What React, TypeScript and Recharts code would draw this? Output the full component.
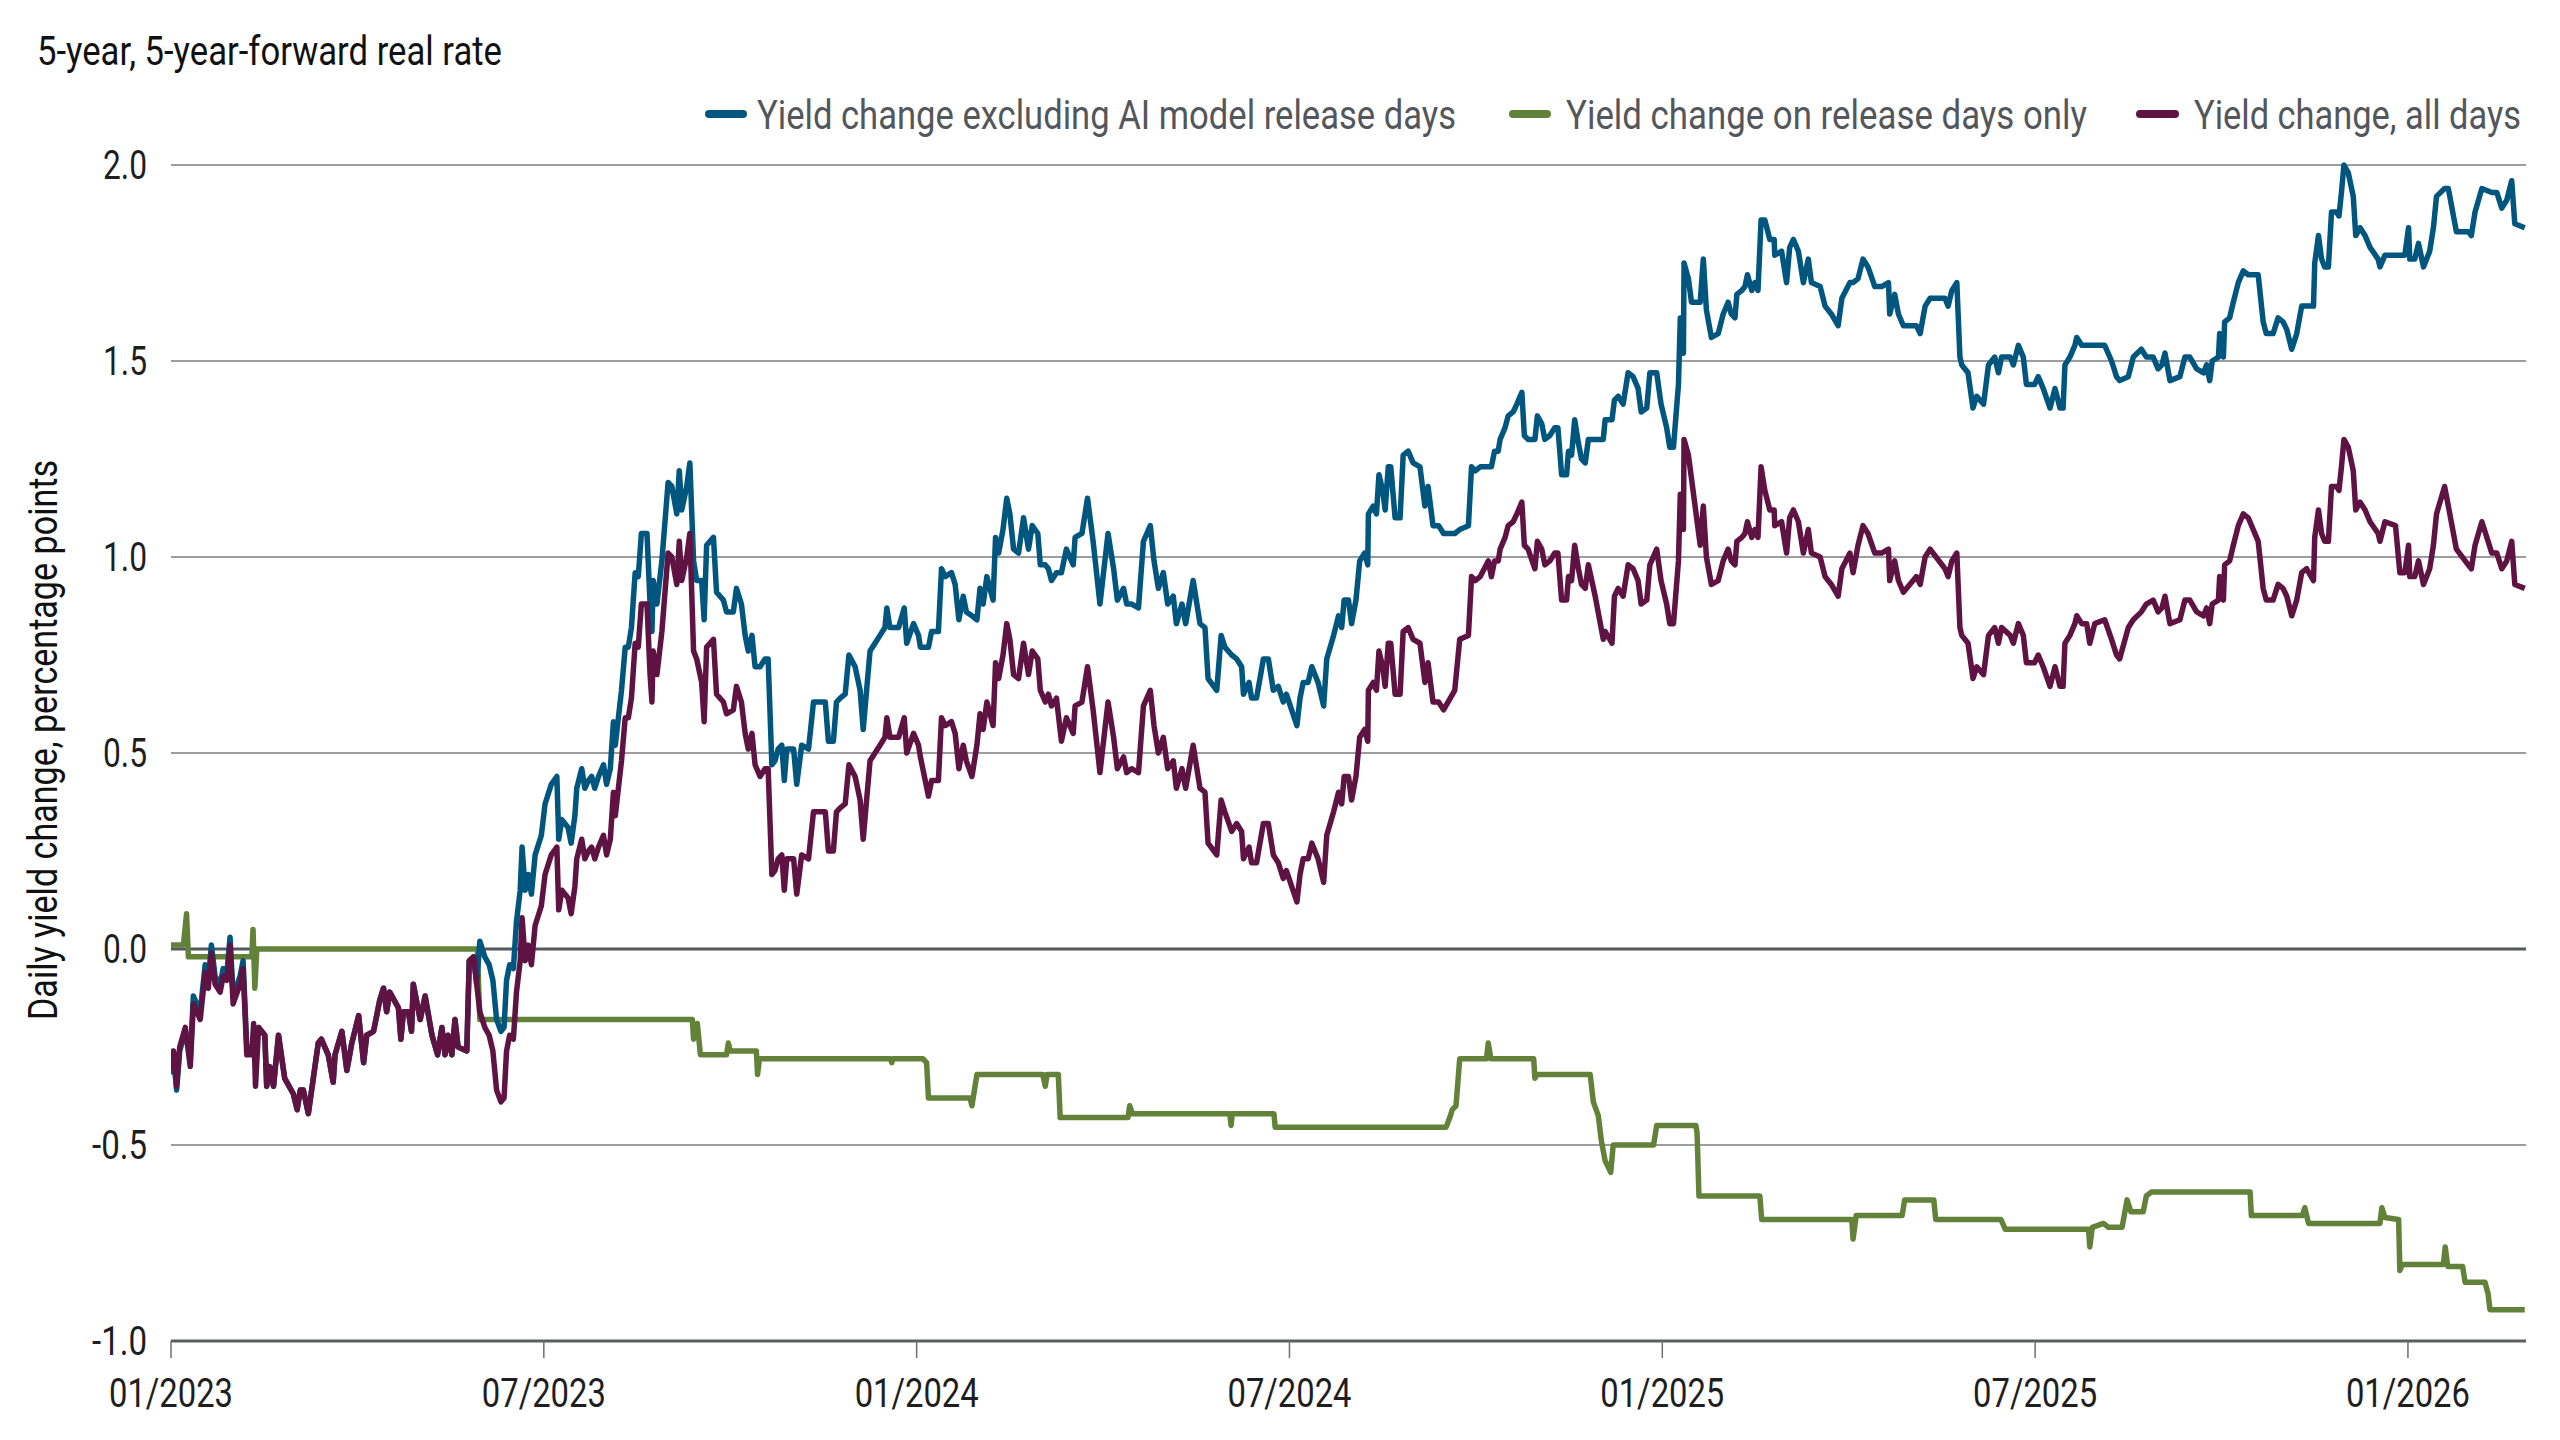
import React from 'react';
import { LineChart, Line, XAxis, YAxis, CartesianGrid, ReferenceLine } from 'recharts';

// x position = months elapsed since 1 Jan 2023
const months = [
  0.00, 0.04, 0.09, 0.14, 0.23, 0.31, 0.36, 0.47, 0.55, 0.60,
  0.65, 0.71, 0.79, 0.84, 0.90, 0.95, 1.00, 1.11, 1.16, 1.22,
  1.30, 1.33, 1.36, 1.41, 1.51, 1.54, 1.59, 1.65, 1.73, 1.83,
  1.97, 2.03, 2.08, 2.13, 2.21, 2.29, 2.37, 2.42, 2.53, 2.61,
  2.64, 2.75, 2.83, 2.91, 3.02, 3.10, 3.15, 3.26, 3.36, 3.42,
  3.47, 3.52, 3.66, 3.70, 3.74, 3.82, 3.87, 3.90, 4.01, 4.09,
  4.20, 4.29, 4.36, 4.41, 4.46, 4.52, 4.57, 4.62, 4.76, 4.80,
  4.87, 4.92, 4.97, 5.05, 5.12, 5.18, 5.24, 5.31, 5.36, 5.40,
  5.45, 5.51, 5.56, 5.62, 5.65, 5.70, 5.75, 5.80, 5.86, 5.96,
  6.02, 6.12, 6.21, 6.24, 6.29, 6.39, 6.44, 6.50, 6.53, 6.61,
  6.66, 6.72, 6.77, 6.82, 6.88, 6.96, 7.01, 7.07, 7.12, 7.15,
  7.20, 7.25, 7.31, 7.36, 7.41, 7.47, 7.52, 7.57, 7.66, 7.71,
  7.74, 7.76, 7.82, 7.90, 8.00, 8.06, 8.14, 8.18, 8.22, 8.30,
  8.35, 8.41, 8.46, 8.54, 8.58, 8.62, 8.73, 8.78, 8.89, 8.94,
  9.05, 9.10, 9.18, 9.24, 9.29, 9.35, 9.40, 9.48, 9.56, 9.61,
  9.67, 9.72, 9.77, 9.83, 9.87, 9.91, 10.02, 10.07, 10.15, 10.26,
  10.34, 10.47, 10.53, 10.58, 10.66, 10.71, 10.77, 10.85, 10.91, 11.01,
  11.09, 11.14, 11.20, 11.25, 11.33, 11.41, 11.49, 11.52, 11.57, 11.71,
  11.80, 11.84, 11.95, 12.03, 12.06, 12.19, 12.24, 12.35, 12.40, 12.46,
  12.56, 12.62, 12.68, 12.75, 12.80, 12.89, 12.97, 13.02, 13.07, 13.13,
  13.23, 13.27, 13.32, 13.39, 13.45, 13.50, 13.56, 13.64, 13.72, 13.80,
  13.86, 13.95, 13.99, 14.07, 14.12, 14.17, 14.25, 14.33, 14.41, 14.52,
  14.55, 14.66, 14.75, 14.84, 14.95, 15.08, 15.17, 15.23, 15.33, 15.38,
  15.46, 15.57, 15.65, 15.76, 15.82, 15.89, 15.97, 16.04, 16.13, 16.18,
  16.27, 16.33, 16.45, 16.56, 16.64, 16.69, 16.83, 16.90, 16.96, 17.07,
  17.15, 17.23, 17.26, 17.35, 17.39, 17.47, 17.58, 17.66, 17.74, 17.82,
  17.90, 17.95, 18.12, 18.17, 18.22, 18.30, 18.36, 18.46, 18.55, 18.60,
  18.71, 18.79, 18.84, 18.88, 18.95, 19.00, 19.07, 19.13, 19.21, 19.26,
  19.27, 19.35, 19.40, 19.44, 19.50, 19.54, 19.59, 19.63, 19.70, 19.78,
  19.83, 19.91, 19.99, 20.10, 20.18, 20.23, 20.31, 20.40, 20.48, 20.66,
  20.74, 20.88, 20.93, 20.99, 21.07, 21.20, 21.25, 21.30, 21.36, 21.39,
  21.47, 21.52, 21.60, 21.66, 21.74, 21.78, 21.84, 21.95, 21.99, 22.06,
  22.11, 22.19, 22.27, 22.32, 22.38, 22.46, 22.49, 22.54, 22.59, 22.65,
  22.70, 22.76, 22.81, 22.92, 23.05, 23.08, 23.19, 23.23, 23.29, 23.37,
  23.45, 23.53, 23.61, 23.66, 23.75, 23.80, 23.91, 23.98, 24.07, 24.12,
  24.18, 24.26, 24.29, 24.34, 24.35, 24.42, 24.47, 24.61, 24.66, 24.71,
  24.79, 24.90, 24.98, 25.06, 25.11, 25.17, 25.20, 25.28, 25.33, 25.37,
  25.44, 25.49, 25.54, 25.59, 25.65, 25.73, 25.80, 25.81, 25.92, 26.00,
  26.05, 26.11, 26.19, 26.27, 26.35, 26.40, 26.54, 26.62, 26.72, 26.83,
  26.89, 27.02, 27.07, 27.15, 27.23, 27.31, 27.42, 27.53, 27.64, 27.66,
  27.74, 27.80, 27.88, 28.09, 28.15, 28.23, 28.31, 28.55, 28.60, 28.66,
  28.74, 28.79, 28.82, 28.92, 29.00, 29.06, 29.17, 29.25, 29.35, 29.41,
  29.46, 29.60, 29.65, 29.73, 29.81, 29.86, 29.99, 30.05, 30.13, 30.24,
  30.32, 30.40, 30.45, 30.48, 30.56, 30.64, 30.67, 30.75, 30.83, 30.88,
  30.96, 31.12, 31.23, 31.31, 31.36, 31.50, 31.58, 31.71, 31.79, 31.90,
  31.98, 32.04, 32.09, 32.17, 32.33, 32.41, 32.49, 32.60, 32.71, 32.76,
  32.81, 32.85, 32.95, 32.97, 33.03, 33.05, 33.13, 33.19, 33.27, 33.35,
  33.43, 33.59, 33.67, 33.72, 33.83, 33.91, 33.99, 34.05, 34.13, 34.21,
  34.29, 34.37, 34.48, 34.50, 34.56, 34.61, 34.66, 34.72, 34.77, 34.85,
  34.89, 34.93, 34.97, 35.04, 35.12, 35.16, 35.23, 35.31, 35.39, 35.52,
  35.55, 35.63, 35.80, 35.87, 35.95, 36.01, 36.03, 36.11, 36.17, 36.25,
  36.35, 36.41, 36.46, 36.59, 36.65, 36.78, 36.97, 37.02, 37.08, 37.19,
  37.35, 37.43, 37.51, 37.59, 37.67, 37.72, 37.88,
];

const excludingRelease = [
  -0.32, -0.27, -0.36, -0.26, -0.21, -0.28, -0.12, -0.16, -0.04, -0.08,
  0.01, -0.07, -0.09, -0.05, -0.06, 0.03, -0.12, -0.07, -0.03, -0.25,
  -0.25, -0.24, -0.25, -0.20, -0.22, -0.35, -0.30, -0.35, -0.22, -0.33,
  -0.37, -0.41, -0.36, -0.36, -0.42, -0.33, -0.24, -0.23, -0.27, -0.34,
  -0.27, -0.21, -0.31, -0.24, -0.17, -0.29, -0.22, -0.21, -0.13, -0.10,
  -0.16, -0.11, -0.15, -0.23, -0.16, -0.16, -0.21, -0.09, -0.18, -0.12,
  -0.22, -0.27, -0.20, -0.27, -0.22, -0.27, -0.18, -0.25, -0.26, -0.03,
  -0.02, -0.09, 0.02, -0.02, -0.04, -0.08, -0.18, -0.21, -0.20, -0.08,
  -0.04, -0.05, 0.07, 0.15, 0.26, 0.15, 0.19, 0.14, 0.24, 0.29,
  0.37, 0.42, 0.44, 0.28, 0.33, 0.31, 0.27, 0.34, 0.41, 0.46,
  0.41, 0.43, 0.44, 0.41, 0.44, 0.47, 0.42, 0.46, 0.58, 0.52,
  0.59, 0.66, 0.77, 0.77, 0.82, 0.96, 0.95, 1.06, 1.06, 0.88,
  0.81, 0.94, 0.88, 0.99, 1.19, 1.18, 1.11, 1.22, 1.12, 1.18,
  1.24, 0.99, 0.94, 0.94, 0.84, 1.03, 1.05, 0.91, 0.89, 0.86,
  0.86, 0.92, 0.88, 0.80, 0.76, 0.80, 0.72, 0.72, 0.74, 0.74,
  0.47, 0.48, 0.51, 0.52, 0.43, 0.51, 0.51, 0.42, 0.52, 0.51,
  0.63, 0.63, 0.63, 0.53, 0.53, 0.63, 0.64, 0.65, 0.75, 0.72,
  0.66, 0.56, 0.67, 0.76, 0.78, 0.80, 0.82, 0.87, 0.82, 0.82,
  0.87, 0.78, 0.83, 0.80, 0.77, 0.77, 0.81, 0.81, 0.97, 0.95,
  0.96, 0.93, 0.84, 0.90, 0.86, 0.85, 0.84, 0.92, 0.88, 0.95,
  0.89, 1.05, 1.01, 1.07, 1.15, 1.11, 1.02, 1.01, 1.10, 1.02,
  1.08, 1.06, 0.98, 0.98, 0.97, 0.94, 0.96, 0.96, 1.02, 0.98,
  1.05, 1.06, 1.15, 1.04, 0.88, 1.06, 0.97, 0.89, 0.92, 0.88,
  0.88, 0.87, 1.04, 1.08, 0.99, 0.92, 0.96, 0.88, 0.90, 0.83,
  0.88, 0.83, 0.94, 0.83, 0.82, 0.69, 0.66, 0.80, 0.77, 0.75,
  0.74, 0.72, 0.65, 0.68, 0.64, 0.64, 0.74, 0.74, 0.66, 0.67,
  0.63, 0.65, 0.57, 0.64, 0.68, 0.68, 0.72, 0.68, 0.62, 0.74,
  0.80, 0.85, 0.82, 0.89, 0.89, 0.83, 0.89, 0.99, 1.01, 0.98,
  1.11, 1.13, 1.11, 1.21, 1.17, 1.12, 1.23, 1.23, 1.10, 1.10,
  1.26, 1.27, 1.24, 1.23, 1.13, 1.18, 1.08, 1.08, 1.06, 1.06,
  1.07, 1.08, 1.23, 1.22, 1.23, 1.23, 1.23, 1.27, 1.27, 1.30,
  1.33, 1.36, 1.37, 1.39, 1.42, 1.31, 1.30, 1.30, 1.36, 1.34,
  1.30, 1.31, 1.33, 1.33, 1.21, 1.21, 1.27, 1.26, 1.35, 1.29,
  1.25, 1.24, 1.30, 1.30, 1.30, 1.35, 1.35, 1.40, 1.41, 1.39,
  1.47, 1.46, 1.43, 1.37, 1.38, 1.47, 1.47, 1.39, 1.33, 1.28,
  1.28, 1.44, 1.61, 1.52, 1.75, 1.71, 1.65, 1.65, 1.76, 1.63,
  1.56, 1.57, 1.62, 1.65, 1.62, 1.61, 1.67, 1.68, 1.69, 1.72,
  1.68, 1.70, 1.68, 1.86, 1.86, 1.81, 1.81, 1.77, 1.78, 1.70,
  1.79, 1.81, 1.78, 1.70, 1.76, 1.70, 1.69, 1.64, 1.62, 1.59,
  1.66, 1.70, 1.70, 1.71, 1.76, 1.74, 1.69, 1.69, 1.70, 1.62,
  1.67, 1.62, 1.59, 1.59, 1.57, 1.64, 1.66, 1.66, 1.64, 1.68,
  1.70, 1.51, 1.49, 1.47, 1.38, 1.41, 1.39, 1.49, 1.51, 1.47,
  1.51, 1.51, 1.49, 1.54, 1.51, 1.44, 1.44, 1.46, 1.43, 1.38,
  1.43, 1.38, 1.38, 1.49, 1.51, 1.54, 1.56, 1.54, 1.54, 1.54,
  1.54, 1.54, 1.50, 1.46, 1.45, 1.46, 1.51, 1.53, 1.51, 1.51,
  1.48, 1.49, 1.52, 1.45, 1.46, 1.51, 1.51, 1.48, 1.47, 1.49,
  1.45, 1.50, 1.51, 1.57, 1.51, 1.60, 1.61, 1.65, 1.70, 1.73,
  1.72, 1.72, 1.60, 1.57, 1.57, 1.61, 1.60, 1.58, 1.53, 1.57,
  1.64, 1.64, 1.64, 1.75, 1.82, 1.76, 1.74, 1.74, 1.88, 1.88,
  1.87, 1.93, 2.00, 1.98, 1.92, 1.82, 1.84, 1.82, 1.79, 1.76,
  1.74, 1.77, 1.77, 1.77, 1.77, 1.84, 1.76, 1.76, 1.80, 1.74,
  1.78, 1.84, 1.92, 1.94, 1.94, 1.83, 1.83, 1.82, 1.88, 1.94,
  1.93, 1.93, 1.89, 1.91, 1.96, 1.85, 1.84,
];

const allDays = [
  -0.31, -0.26, -0.35, -0.25, -0.20, -0.30, -0.14, -0.18, -0.06, -0.10,
  -0.01, -0.09, -0.11, -0.07, -0.08, 0.01, -0.14, -0.09, -0.05, -0.27,
  -0.27, -0.19, -0.35, -0.20, -0.22, -0.35, -0.30, -0.35, -0.22, -0.33,
  -0.37, -0.41, -0.36, -0.36, -0.42, -0.33, -0.24, -0.23, -0.27, -0.34,
  -0.27, -0.21, -0.31, -0.24, -0.17, -0.29, -0.22, -0.21, -0.13, -0.10,
  -0.16, -0.11, -0.15, -0.23, -0.16, -0.16, -0.21, -0.09, -0.18, -0.12,
  -0.22, -0.27, -0.20, -0.27, -0.22, -0.27, -0.18, -0.25, -0.26, -0.03,
  -0.02, -0.09, -0.16, -0.20, -0.22, -0.26, -0.36, -0.39, -0.38, -0.26,
  -0.22, -0.23, -0.11, -0.03, 0.08, -0.03, 0.01, -0.04, 0.06, 0.11,
  0.19, 0.24, 0.26, 0.10, 0.15, 0.13, 0.09, 0.16, 0.23, 0.28,
  0.23, 0.25, 0.26, 0.23, 0.26, 0.29, 0.24, 0.28, 0.40, 0.34,
  0.41, 0.48, 0.59, 0.59, 0.64, 0.78, 0.77, 0.88, 0.88, 0.70,
  0.63, 0.76, 0.70, 0.81, 1.01, 1.00, 0.93, 1.04, 0.94, 1.00,
  1.06, 0.76, 0.74, 0.68, 0.58, 0.77, 0.79, 0.65, 0.63, 0.60,
  0.61, 0.67, 0.63, 0.55, 0.51, 0.55, 0.47, 0.44, 0.46, 0.46,
  0.19, 0.20, 0.23, 0.24, 0.15, 0.23, 0.23, 0.14, 0.24, 0.23,
  0.35, 0.35, 0.35, 0.25, 0.25, 0.35, 0.36, 0.37, 0.47, 0.44,
  0.38, 0.28, 0.39, 0.48, 0.50, 0.52, 0.54, 0.59, 0.54, 0.54,
  0.59, 0.50, 0.55, 0.52, 0.49, 0.39, 0.43, 0.43, 0.59, 0.57,
  0.58, 0.55, 0.46, 0.52, 0.48, 0.44, 0.52, 0.60, 0.56, 0.63,
  0.57, 0.73, 0.69, 0.75, 0.83, 0.79, 0.70, 0.69, 0.78, 0.70,
  0.76, 0.74, 0.66, 0.63, 0.65, 0.62, 0.64, 0.53, 0.59, 0.55,
  0.62, 0.63, 0.72, 0.61, 0.45, 0.63, 0.54, 0.46, 0.49, 0.45,
  0.46, 0.45, 0.62, 0.66, 0.57, 0.50, 0.54, 0.46, 0.48, 0.41,
  0.46, 0.41, 0.52, 0.41, 0.40, 0.27, 0.24, 0.38, 0.35, 0.30,
  0.32, 0.30, 0.23, 0.26, 0.22, 0.22, 0.32, 0.32, 0.24, 0.22,
  0.18, 0.20, 0.12, 0.19, 0.23, 0.23, 0.27, 0.23, 0.17, 0.29,
  0.35, 0.40, 0.37, 0.44, 0.44, 0.38, 0.44, 0.54, 0.56, 0.53,
  0.66, 0.68, 0.66, 0.76, 0.72, 0.67, 0.78, 0.78, 0.65, 0.65,
  0.81, 0.82, 0.79, 0.78, 0.68, 0.73, 0.63, 0.63, 0.61, 0.66,
  0.79, 0.80, 0.95, 0.94, 0.95, 0.99, 0.95, 0.99, 0.99, 1.02,
  1.05, 1.08, 1.09, 1.11, 1.14, 1.03, 1.02, 0.97, 1.04, 1.02,
  0.98, 0.99, 1.01, 1.01, 0.89, 0.89, 0.95, 0.94, 1.03, 0.97,
  0.93, 0.92, 0.98, 0.90, 0.79, 0.81, 0.78, 0.90, 0.92, 0.90,
  0.98, 0.97, 0.94, 0.88, 0.89, 0.98, 1.02, 0.94, 0.88, 0.83,
  0.83, 0.99, 1.16, 1.07, 1.30, 1.26, 1.20, 1.03, 1.13, 1.00,
  0.93, 0.94, 0.99, 1.02, 0.99, 0.98, 1.04, 1.05, 1.06, 1.09,
  1.05, 1.07, 1.05, 1.23, 1.17, 1.12, 1.12, 1.08, 1.09, 1.01,
  1.10, 1.12, 1.09, 1.01, 1.07, 1.01, 1.00, 0.95, 0.93, 0.90,
  0.97, 1.01, 0.96, 1.03, 1.08, 1.06, 1.01, 1.01, 1.02, 0.94,
  0.99, 0.94, 0.91, 0.95, 0.93, 1.00, 1.02, 0.97, 0.95, 0.99,
  1.01, 0.82, 0.80, 0.78, 0.69, 0.72, 0.70, 0.80, 0.82, 0.78,
  0.82, 0.80, 0.78, 0.83, 0.80, 0.73, 0.73, 0.75, 0.72, 0.67,
  0.72, 0.67, 0.67, 0.78, 0.80, 0.83, 0.85, 0.83, 0.83, 0.78,
  0.83, 0.84, 0.79, 0.75, 0.74, 0.82, 0.84, 0.86, 0.88, 0.89,
  0.86, 0.87, 0.90, 0.83, 0.84, 0.89, 0.89, 0.86, 0.85, 0.87,
  0.83, 0.88, 0.89, 0.95, 0.89, 0.98, 0.99, 1.03, 1.08, 1.11,
  1.10, 1.04, 0.92, 0.89, 0.89, 0.93, 0.92, 0.90, 0.85, 0.89,
  0.96, 0.97, 0.94, 1.05, 1.12, 1.06, 1.04, 1.04, 1.18, 1.18,
  1.17, 1.23, 1.30, 1.28, 1.22, 1.12, 1.14, 1.12, 1.09, 1.06,
  1.04, 1.09, 1.08, 0.96, 0.96, 1.03, 0.95, 0.95, 0.99, 0.93,
  0.97, 1.03, 1.11, 1.18, 1.13, 1.02, 0.98, 0.97, 1.03, 1.09,
  1.01, 1.01, 0.97, 0.99, 1.04, 0.93, 0.92,
];

// release-day-only cumulative change (step series, its own dates)
const releaseMonths = [
  0.00, 0.20, 0.25, 0.28, 1.30, 1.32, 1.35, 1.38, 4.93, 4.97,
  8.39, 8.41, 8.47, 8.52, 8.94, 8.97, 9.00, 9.42, 9.44, 9.47,
  11.58, 11.60, 11.62, 12.10, 12.16, 12.19, 12.86, 12.89, 12.97, 14.03,
  14.07, 14.10, 14.28, 14.31, 15.40, 15.43, 15.47, 17.04, 17.06, 17.08,
  17.75, 17.77, 20.52, 20.58, 20.62, 20.68, 20.74, 21.17, 21.20, 21.24,
  21.93, 21.95, 21.98, 22.84, 22.89, 22.97, 23.02, 23.08, 23.17, 23.21,
  23.86, 23.91, 24.54, 24.56, 24.59, 25.57, 25.60, 27.05, 27.07, 27.12,
  27.86, 27.90, 28.37, 28.40, 29.45, 29.52, 30.86, 30.88, 30.92, 31.10,
  31.18, 31.40, 31.48, 31.54, 31.74, 31.79, 31.87, 33.46, 33.48, 34.30,
  34.34, 34.40, 35.55, 35.58, 35.63, 35.85, 35.87, 35.91, 36.57, 36.60,
  36.64, 36.88, 36.92, 37.24, 37.29, 37.32, 37.88,
];
const releaseOnly = [
  0.01, 0.01, 0.09, -0.02, -0.02, 0.05, -0.10, 0.00, 0.00, -0.18,
  -0.18, -0.23, -0.19, -0.27, -0.27, -0.24, -0.26, -0.26, -0.32, -0.28,
  -0.28, -0.29, -0.28, -0.28, -0.29, -0.38, -0.38, -0.40, -0.32, -0.32,
  -0.35, -0.32, -0.32, -0.43, -0.43, -0.40, -0.42, -0.42, -0.45, -0.42,
  -0.42, -0.455, -0.455, -0.43, -0.41, -0.40, -0.28, -0.28, -0.24, -0.28,
  -0.28, -0.33, -0.32, -0.32, -0.39, -0.425, -0.49, -0.54, -0.57, -0.50,
  -0.50, -0.45, -0.45, -0.47, -0.63, -0.63, -0.69, -0.69, -0.74, -0.68,
  -0.68, -0.64, -0.64, -0.69, -0.69, -0.715, -0.715, -0.76, -0.71, -0.70,
  -0.71, -0.71, -0.64, -0.67, -0.67, -0.63, -0.62, -0.62, -0.68, -0.68,
  -0.66, -0.70, -0.70, -0.66, -0.685, -0.69, -0.82, -0.805, -0.805, -0.76,
  -0.81, -0.81, -0.85, -0.85, -0.88, -0.92, -0.92,
];

const xTicks = [0, 6, 12, 18, 24, 30, 36];
const xTickLabels = ['01/2023', '07/2023', '01/2024', '07/2024', '01/2025', '07/2025', '01/2026'];
const yTicks = [-1, -0.5, 0, 0.5, 1, 1.5, 2];

const titleText = '5-year, 5-year-forward real rate';
const yAxisTitle = 'Daily yield change, percentage points';
const seriesNames = [
  'Yield change excluding AI model release days',
  'Yield change on release days only',
  'Yield change, all days',
];

const C_EXCL = '#00567F';
const C_REL = '#62823A';
const C_ALL = '#5F1343';
const FONT = "Roboto, 'Liberation Sans', sans-serif";
const FS = 40;
const TEXT = '#1e1e1e';
const SQUEEZE = 0.8;

const W = 2544;
const H = 1424;

const mainData = months.map((m, i) => ({ m, excl: excludingRelease[i], all: allDays[i] }));
const releaseData = releaseMonths.map((m, i) => ({ m, rel: releaseOnly[i] }));

const legendItems = [
  { name: seriesNames[0], color: C_EXCL, x1: 701, x2: 735, tx: 749, len: 699 },
  { name: seriesNames[1], color: C_REL, x1: 1505, x2: 1539, tx: 1558, len: 521 },
  { name: seriesNames[2], color: C_ALL, x1: 2132, x2: 2167, tx: 2186, len: 327 },
];

const XTick = (props: any) => {
  const { x, y, payload } = props;
  const label = xTickLabels[xTicks.indexOf(payload.value)] ?? '';
  return (
    <text x={x} y={y} dy="0.71em" textAnchor="middle" fontSize={FS} fontFamily={FONT} fill={TEXT}
      textLength={124} lengthAdjust="spacingAndGlyphs">{label}</text>
  );
};

const YTick = (props: any) => {
  const { x, y, payload } = props;
  const label = Number(payload.value).toFixed(1);
  const len = label.startsWith('-') ? 55 : 44;
  return (
    <text x={x} y={y} dy="0.355em" textAnchor="end" fontSize={FS} fontFamily={FONT} fill={TEXT}
      textLength={len} lengthAdjust="spacingAndGlyphs">{label}</text>
  );
};

export default function App() {
  return (
    <div style={{ position: 'relative', width: W, height: H }}>
      <LineChart width={W} height={H} data={mainData} margin={{ top: 157, right: 26, bottom: 31, left: 0 }}>
        <CartesianGrid vertical={false} stroke="#7b7c7f" strokeWidth={1.5} />
        <XAxis
          dataKey="m"
          type="number"
          domain={[0, 37.9]}
          ticks={xTicks}
          interval={0}
          allowDataOverflow
          axisLine={{ stroke: '#5b5e63', strokeWidth: 3 }}
          tickLine={{ stroke: '#6b6e72', strokeWidth: 1.5 }}
          tickSize={17}
          tickMargin={21}
          height={60}
          tick={<XTick />}
        />
        <YAxis
          type="number"
          domain={[-1, 2]}
          ticks={yTicks}
          interval={0}
          axisLine={false}
          tickLine={false}
          tickSize={0}
          tickMargin={24}
          width={163}
          tick={<YTick />}
        />
        <ReferenceLine y={0} stroke="#55585d" strokeWidth={3} />
        <Line data={releaseData} dataKey="rel" type="linear" stroke={C_REL} strokeWidth={5.5} dot={false} isAnimationActive={false} strokeLinejoin="round" />
        <Line dataKey="excl" type="linear" stroke={C_EXCL} strokeWidth={5.5} dot={false} isAnimationActive={false} strokeLinejoin="round" />
        <Line dataKey="all" type="linear" stroke={C_ALL} strokeWidth={5.5} dot={false} isAnimationActive={false} strokeLinejoin="round" />
      </LineChart>
      <svg width={W} height={H} style={{ position: 'absolute', left: 0, top: 0, pointerEvents: 'none' }}>
        <text x={29} y={57} fontSize={FS} fontFamily={FONT} fill="#111" textLength={465} lengthAdjust="spacingAndGlyphs">{titleText}</text>
        <text transform="rotate(-90)" x={-732} y={49} textAnchor="middle" fontSize={FS} fontFamily={FONT} fill="#111"
          textLength={560} lengthAdjust="spacingAndGlyphs">{yAxisTitle}</text>
        {legendItems.map((it) => (
          <g key={it.name}>
            <line x1={it.x1} x2={it.x2} y1={106} y2={106} stroke={it.color} strokeWidth={8} strokeLinecap="round" />
            <g transform={`translate(${it.tx},121) scale(${SQUEEZE},1)`}>
              <text x={0} y={0} fontSize={FS} fontFamily={FONT} fill="#53565A"
                textLength={it.len / SQUEEZE} lengthAdjust="spacingAndGlyphs">{it.name}</text>
            </g>
          </g>
        ))}
      </svg>
    </div>
  );
}
